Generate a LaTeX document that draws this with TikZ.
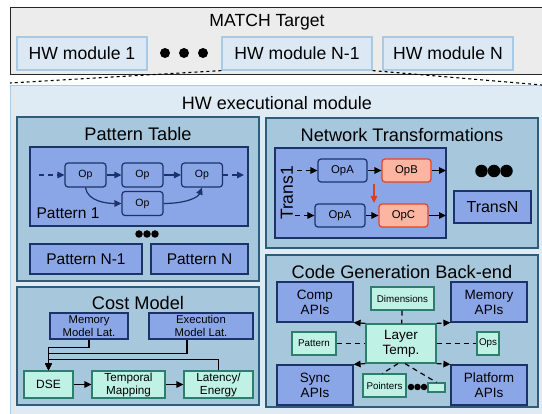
\documentclass[tikz,border=0pt]{standalone}
\usepackage{fontspec}
\setmainfont{Liberation Sans}
\usetikzlibrary{arrows.meta}
\definecolor{matchf}{HTML}{ECECEC}
\definecolor{hwf}{HTML}{DCE9F4}
\definecolor{hwb}{HTML}{A9CAE3}
\definecolor{exf}{HTML}{DEEBF4}
\definecolor{pnf}{HTML}{A6C7DC}
\definecolor{pnb}{HTML}{2F5C78}
\definecolor{pf}{HTML}{8BA6E6}
\definecolor{pb}{HTML}{1C326A}
\definecolor{mf}{HTML}{BFF2E4}
\definecolor{mb}{HTML}{2B7F6C}
\definecolor{sf}{HTML}{FBB5A1}
\definecolor{sb}{HTML}{E0452A}
\definecolor{arrred}{HTML}{D9401F}
\newcommand\fsz[2]{\fontsize{#1}{#2}\selectfont}
\tikzset{
 hwbox/.style={draw=hwb, fill=hwf, line width=1.2pt, inner sep=0pt, font=\fsz{17.6}{20}},
 panel/.style={draw=pnb, fill=pnf, line width=1.3pt, inner sep=0pt},
 perbox/.style={draw=pb, fill=pf, line width=1.2pt, inner sep=0pt, align=center},
 opbox/.style={perbox, rounded corners=3pt, font=\fsz{10.5}{12}},
 mintbox/.style={draw=mb, fill=mf, line width=1.2pt, inner sep=0pt, align=center},
 salbox/.style={draw=sb, fill=sf, line width=1.2pt, rounded corners=3pt, inner sep=0pt, font=\fsz{11.3}{13}},
 title/.style={font=\fsz{18.2}{20}, inner sep=0pt},
 arr/.style={-{Triangle[length=7pt,width=6.5pt]}, line width=1.2pt},
 dsh/.style={dash pattern=on 5pt off 4pt},
 dot/.style={circle, fill=black, inner sep=0pt, minimum size=#1},
}
\begin{document}
\begin{tikzpicture}[x=1pt,y=-1pt]
\useasboundingbox (0,0) rectangle (542,414);
\clip (0,0) rectangle (542,414);
% executional module background
\node[draw=hwb, fill=exf, line width=1.2pt, minimum width=545pt, minimum height=335pt, anchor=north west, inner sep=0pt] (exec) at (10,85) {};
\node[title, font=\fsz{18}{20}] (exectitle) at (277,103) {HW executional module};
% MATCH target
\node[draw=black!85, fill=matchf, line width=1.4pt, minimum width=550pt, minimum height=67pt, anchor=north west, inner sep=0pt] (match) at (10,7) {};
\node[font=\fsz{17.6}{20}, inner sep=0pt] (matchtitle) at (267,22) {MATCH Target};
\coordinate (lc) at (10,83);
\coordinate (rc) at (542,85);
\node[hwbox, minimum width=130pt, minimum height=33pt] (hw1) at (82,53.5) {HW module 1};
\node[hwbox, minimum width=150pt, minimum height=33pt] (hwn1) at (297,53.5) {HW module N-1};
\node[hwbox, minimum width=130pt, minimum height=33pt] (hwn) at (448,53.5) {HW module N};
\draw[dashed, line width=1.1pt] (hwn1.south west) -- (lc);
\draw[dashed, line width=1.1pt] (hwn1.south east) -- (rc);
\node[dot=10pt] (d1) at (165,53) {};
\node[dot=10pt] (d2) at (184,53) {};
\node[dot=10pt] (d3) at (203,53) {};
% ---------------- Pattern Table
\node[panel, minimum width=242pt, minimum height=164pt] (pt) at (138,199) {};
\node[title] (pttitle) at (138,134) {Pattern Table};
\node[perbox, minimum width=218pt, minimum height=79pt] (pat1) at (139,186.5) {};
\node[opbox, minimum width=41pt, minimum height=24pt] (op1) at (85.5,175) {Op};
\node[opbox, minimum width=41pt, minimum height=24pt] (op2) at (142.5,175) {Op};
\node[opbox, minimum width=41pt, minimum height=24pt] (op3) at (202,175) {Op};
\node[opbox, minimum width=41pt, minimum height=24pt] (op4) at (142.5,203.5) {Op};
\coordinate (pin) at (39,175);
\coordinate (pout) at (244,175);
\begin{scope}[draw=pb, color=pb]
\draw[arr, dsh] (pin) -- (op1);
\draw[arr] (op1) -- (op2);
\draw[arr] (op2) -- (op3);
\draw[arr, dsh] (op3) -- (pout);
\draw[arr] (op1.south) .. controls +(2,14) and +(-14,0) .. (op4.west);
\draw[arr] (op4.east) .. controls +(22,0) and +(-4,10) .. (op3.south);
\end{scope}
\node[font=\fsz{15.5}{18}, inner sep=0pt] (p1lab) at (68,213) {Pattern 1};
\node[dot=7.5pt] (e1) at (139,234) {};
\node[dot=7.5pt] (e2) at (147,234) {};
\node[dot=7.5pt] (e3) at (155,234) {};
\node[perbox, minimum width=112pt, minimum height=30pt, font=\fsz{15.5}{18}] (patn1) at (86,259) {Pattern N-1};
\node[perbox, minimum width=97pt, minimum height=30pt, font=\fsz{15.5}{18}] (patn) at (199.5,259) {Pattern N};
% ---------------- Cost Model
\node[panel, minimum width=242pt, minimum height=118pt] (cm) at (138,346) {};
\node[title] (cmtitle) at (138,303) {Cost Model};
\node[perbox, minimum width=78pt, minimum height=26pt, font=\fsz{11.3}{12.5}] (mem) at (89,326) {Memory\\Model Lat.};
\node[perbox, minimum width=104pt, minimum height=26pt, font=\fsz{11.3}{12.5}] (exe) at (201,326) {Execution\\Model Lat.};
\node[mintbox, minimum width=49pt, minimum height=27pt, font=\fsz{12}{13}] (dse) at (48.5,384.5) {DSE};
\node[mintbox, minimum width=73pt, minimum height=27pt, font=\fsz{11.7}{13}] (temp) at (128.5,384.5) {Temporal\\Mapping};
\node[mintbox, minimum width=69pt, minimum height=27pt, font=\fsz{11.7}{13}] (lat) at (218.5,384.5) {Latency/\\Energy};
\draw[arr] (mem.south) -- ++(0,8) -| (dse.north);
\draw[arr] ([xshift=-14pt]exe.south) -- ++(0,14) -| (dse.north);
\draw[arr] (lat.north) -- ++(0,-11) -| (dse.north);
\draw[arr] (dse) -- (temp);
\draw[arr] (temp) -- (lat);
% ---------------- Network Transformations
\node[panel, minimum width=272pt, minimum height=130pt] (nt) at (402,183) {};
\node[title] (nttitle) at (402,135) {Network Transformations};
\node[perbox, minimum width=171pt, minimum height=90pt] (tr1) at (360.5,193) {};
\node[font=\fsz{17.5}{20}, inner sep=0pt, rotate=90] (tr1lab) at (287,193) {Trans1};
\node[opbox, font=\fsz{11.3}{13}, minimum width=49pt, minimum height=23pt] (opa1) at (342.5,170.5) {OpA};
\node[salbox, minimum width=49pt, minimum height=23pt] (opb) at (406.5,170.5) {OpB};
\node[opbox, font=\fsz{11.3}{13}, minimum width=50pt, minimum height=23pt] (opa2) at (340,215.5) {OpA};
\node[salbox, minimum width=49pt, minimum height=23pt] (opc) at (403.5,215.5) {OpC};
\coordinate (tin1) at (297,170.5);
\coordinate (tin2) at (295,215.5);
\coordinate (tout1) at (446,170.5);
\coordinate (tout2) at (446,215.5);
\coordinate (rs) at (374,184);
\coordinate (re) at (374,203);
\draw[arr, dsh] (tin1) -- (opa1);
\draw[arr] (opa1) -- (opb);
\draw[arr] (opb) -- (tout1);
\draw[arr, dsh] (tin2) -- (opa2);
\draw[arr] (opa2) -- (opc);
\draw[arr] (opc) -- (tout2);
\draw[arr, draw=arrred, color=arrred] (rs) -- (re);
\node[dot=12.5pt] (f1) at (481.5,171) {};
\node[dot=12.5pt] (f2) at (494,171) {};
\node[dot=12.5pt] (f3) at (506.5,171) {};
\node[perbox, minimum width=77pt, minimum height=32pt, font=\fsz{16}{18}] (trn) at (492.5,207) {TransN};
% ---------------- Code Generation
\node[panel, minimum width=272pt, minimum height=152pt] (cg) at (402,331) {};
\node[title] (cgtitle) at (402,272) {Code Generation Back-end};
\node[perbox, minimum width=76pt, minimum height=40pt, font=\fsz{13.5}{15}] (comp) at (315,302) {Comp\\APIs};
\node[perbox, minimum width=76pt, minimum height=40pt, font=\fsz{13.5}{15}] (memapi) at (489,302) {Memory\\APIs};
\node[perbox, minimum width=76pt, minimum height=40pt, font=\fsz{13.5}{15}] (sync) at (315,385) {Sync\\APIs};
\node[perbox, minimum width=76pt, minimum height=40pt, font=\fsz{13.5}{15}] (plat) at (489,385) {Platform\\APIs};
\node[mintbox, minimum width=63pt, minimum height=23pt, font=\fsz{9.8}{11}] (dims) at (402.5,298.5) {Dimensions};
\node[mintbox, minimum width=70pt, minimum height=39pt, font=\fsz{13.5}{15}] (layer) at (401,343.5) {Layer\\Temp.};
\node[mintbox, minimum width=44pt, minimum height=23pt, font=\fsz{9.8}{11}] (patt) at (314,343.5) {Pattern};
\node[mintbox, minimum width=22pt, minimum height=23pt, font=\fsz{9.8}{11}] (ops) at (488,343.5) {Ops};
\node[mintbox, minimum width=43pt, minimum height=23pt, font=\fsz{9.8}{11}] (ptrs) at (384.5,385.5) {Pointers};
\node[mintbox, minimum width=17pt, minimum height=9pt] (small) at (436.5,387.5) {};
\node[dot=6.5pt] (g1) at (411,387) {};
\node[dot=6.5pt] (g2) at (417.5,387) {};
\node[dot=6.5pt] (g3) at (424,387) {};
\draw[dsh, line width=1.2pt] (dims) -- (layer);
\draw[dsh, line width=1.2pt] (patt) -- (layer);
\draw[dsh, line width=1.2pt] (layer) -- (ops);
\draw[arr, dsh] (layer.north west) -- (comp.south east);
\draw[arr, dsh] (layer.north east) -- (memapi.south west);
\draw[arr, dsh] (layer.south west) -- (sync.north east);
\draw[arr, dsh] (layer.south east) -- (plat.north west);
\draw[dsh, line width=1.2pt] ([xshift=-3pt]layer.south) -- ([xshift=-2pt]ptrs.north);
\draw[dsh, line width=1.2pt] ([xshift=4pt]layer.south) -- (small.north);
\end{tikzpicture}
\end{document}
